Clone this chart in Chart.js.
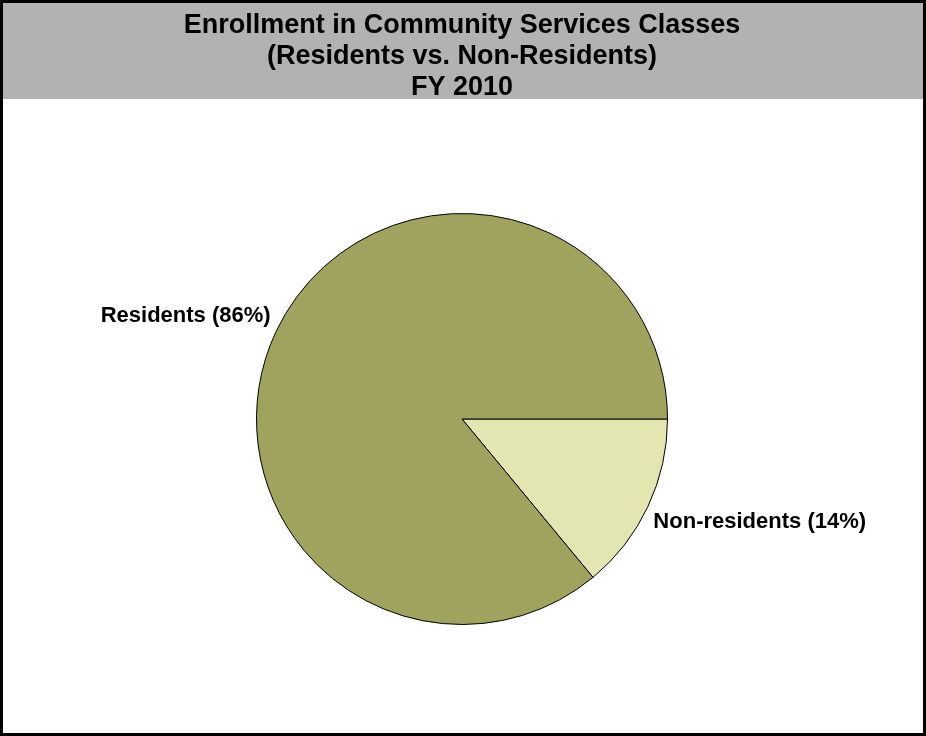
<!DOCTYPE html>
<html lang="en">
  <head>
    <meta charset="UTF-8" />
    <title>Enrollment in Community Services Classes</title>
    <script src="https://cdn.jsdelivr.net/npm/chart.js@4.4.0/dist/chart.umd.min.js"></script>
    <style>
      body { margin: 0; background: #fff; }
      .frame {
        width: 926px;
        height: 736px;
        border: 3px solid #000;
        box-sizing: border-box;
        background: #fff;
      }
      canvas { display: block; }
    </style>
  </head>
  <body>
    <div class="frame">
      <canvas id="chart" width="920" height="730"></canvas>
    </div>
    <script>
      // enrollment split, FY 2010
      const categories = ["Non-residents", "Residents"];
      const shares = [14, 86];
      const sliceColors = ["#e3e6b1", "#9fa35e"];
      const titleLines = [
        "Enrollment in Community Services Classes",
        "(Residents vs. Non-Residents)",
        "FY 2010"
      ];

      // grey band behind the title block
      const titleBand = {
        id: "titleBand",
        beforeDraw(chart) {
          const t = chart.titleBlock;
          const pad = chart.options.plugins.title.padding;
          const ctx = chart.ctx;
          ctx.save();
          ctx.fillStyle = "#b2b2b2";
          ctx.fillRect(0, 0, chart.width, t.top + t.height - pad.bottom - 4);
          ctx.restore();
        }
      };

      // "Name (xx%)" next to each slice
      const sliceLabels = {
        id: "sliceLabels",
        afterDatasetsDraw(chart) {
          const ctx = chart.ctx;
          const meta = chart.getDatasetMeta(0);
          ctx.save();
          ctx.font = "bold 22px 'Liberation Sans', Arial, sans-serif";
          ctx.fillStyle = "#000";
          ctx.textBaseline = "middle";
          meta.data.forEach((arc, i) => {
            const mid = (arc.startAngle + arc.endAngle) / 2;
            const r = arc.outerRadius + 6;
            const cos = Math.cos(mid);
            const sin = Math.sin(mid);
            const x = arc.x + cos * r;
            const y = arc.y + sin * r + Math.sign(sin) * 13;
            ctx.textAlign = cos < 0 ? "right" : "left";
            ctx.fillText(categories[i] + " (" + shares[i] + "%)", x, y);
          });
          ctx.restore();
        }
      };

      const ctx = document.getElementById("chart").getContext("2d");
      new Chart(ctx, {
        type: "pie",
        data: {
          labels: categories,
          datasets: [{
            data: shares,
            backgroundColor: sliceColors,
            borderColor: "#000",
            borderWidth: 1
          }]
        },
        options: {
          responsive: false,
          animation: false,
          devicePixelRatio: 1,
          rotation: 90,
          layout: { padding: { top: 0, left: 0, right: 2, bottom: 108 } },
          plugins: {
            legend: { display: false },
            tooltip: { enabled: false },
            title: {
              display: true,
              text: titleLines,
              color: "#000",
              font: { family: "'Liberation Sans', Arial, sans-serif", size: 27, weight: "bold", lineHeight: "31px" },
              padding: { top: 7, bottom: 110 }
            }
          }
        },
        plugins: [titleBand, sliceLabels]
      });
    </script>
  </body>
</html>
